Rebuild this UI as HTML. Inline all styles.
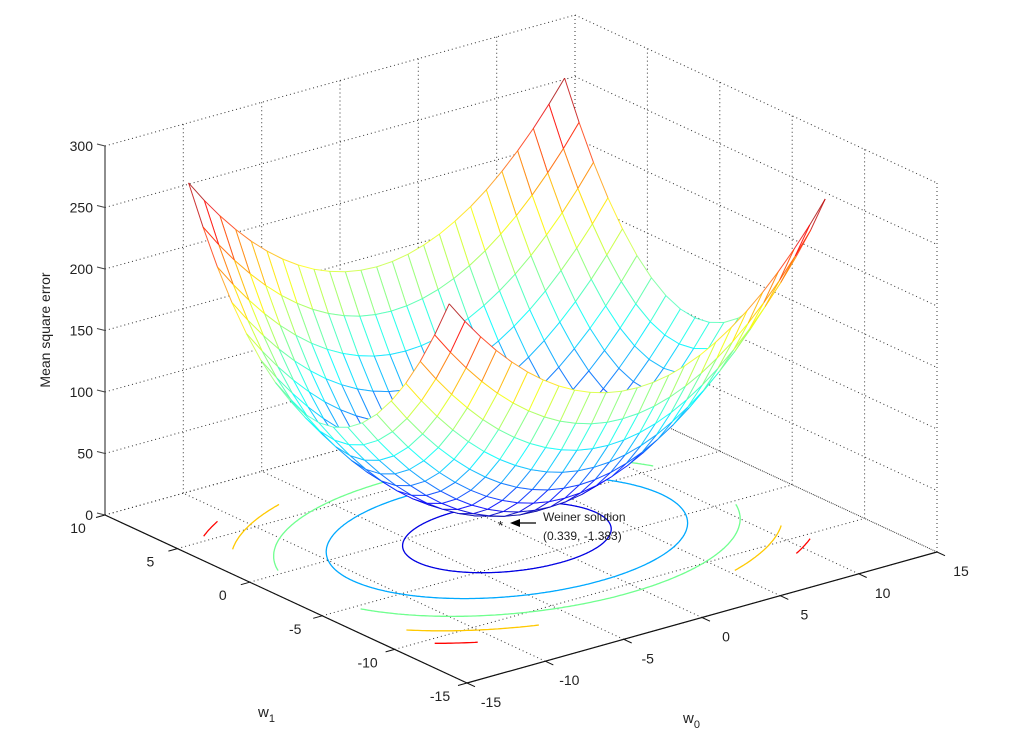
<!DOCTYPE html>
<html><head><meta charset="utf-8"><style>
html,body{margin:0;padding:0;background:#fff;}
svg{display:block;font-family:"Liberation Sans",Arial,sans-serif;}
</style></head><body>
<svg id="chart" width="1024" height="752" viewBox="0 0 1024 752" xmlns="http://www.w3.org/2000/svg">
<g id="grid"></g>
<g id="axes"></g>
<g id="contours"></g>
<g id="mesh"></g>
<g id="annot">
  <text x="498" y="530" font-size="13" fill="#111">*</text>
  <line x1="536" y1="523" x2="516" y2="523" stroke="#000" stroke-width="1.3"/>
  <polygon points="510,523 520,519 520,527" fill="#000"/>
  <text x="543" y="521" font-size="12" fill="#222">Weiner solution</text>
  <text x="543" y="540" font-size="12" fill="#222">(0.339, -1.383)</text>
</g>
<text x="50" y="330" font-size="14" fill="#222" text-anchor="middle" transform="rotate(-90 50 330)">Mean square error</text>
<text x="258" y="717" font-size="15" fill="#222">w<tspan font-size="11" dy="5">1</tspan></text>
<text x="683" y="723" font-size="15" fill="#222">w<tspan font-size="11" dy="5">0</tspan></text>
</svg>
<script>
// ---- data ----
const w0Ticks = [-15, -10, -5, 0, 5, 10, 15];
const w1Ticks = [10, 5, 0, -5, -10, -15];
const zTicks = [0, 50, 100, 150, 200, 250, 300];
const surfaceCenter = [-0.9, -2.5];     // minimum location as drawn
const surfaceHalfRange = [12, 9];       // mesh extent about the minimum
const minError = 25;
const curvature = [0.77, 1.8];          // quadratic coefficients for w0, w1
const contourLevels = [50, 100, 150, 200, 250];
const colorLimits = [25, 283];

// ---- projection ----
function P(w0, w1, z) {
  return [105 + (w0 + 15) * 15.667 + (10 - w1) * 14.48,
          515 - (w0 + 15) * 4.367 + (10 - w1) * 6.72 - z * 1.23];
}
function depth(w0, w1, z) { return 12.64 * w0 + 19.43 * w1 - 0.533 * z; }
function J(w0, w1) {
  const d0 = w0 - surfaceCenter[0], d1 = w1 - surfaceCenter[1];
  return minError + curvature[0] * d0 * d0 + curvature[1] * d1 * d1;
}
function jet(v) {
  let t = (v - colorLimits[0]) / (colorLimits[1] - colorLimits[0]);
  t = Math.max(0, Math.min(1, t));
  const f = x => Math.max(0, Math.min(1, 1.5 - Math.abs(4 * t - x)));
  return 'rgb(' + Math.round(255 * f(3)) + ',' + Math.round(255 * f(2)) + ',' + Math.round(255 * f(1)) + ')';
}
const NS = 'http://www.w3.org/2000/svg';
function line(g, a, b, stroke, dash, w) {
  const l = document.createElementNS(NS, 'line');
  l.setAttribute('x1', a[0].toFixed(1)); l.setAttribute('y1', a[1].toFixed(1));
  l.setAttribute('x2', b[0].toFixed(1)); l.setAttribute('y2', b[1].toFixed(1));
  l.setAttribute('stroke', stroke); l.setAttribute('stroke-width', w || 1);
  if (dash) l.setAttribute('stroke-dasharray', dash);
  g.appendChild(l);
  return l;
}
function text(g, x, y, s, anchor) {
  const t = document.createElementNS(NS, 'text');
  t.setAttribute('x', x); t.setAttribute('y', y);
  t.setAttribute('font-size', 14); t.setAttribute('fill', '#222');
  t.setAttribute('text-anchor', anchor || 'middle');
  t.textContent = s; g.appendChild(t);
  return t;
}

// ---- grid ----
const grid = document.getElementById('grid');
const dash = '1 3', gc = '#333';
w0Ticks.forEach(v => {
  let l = line(grid, P(v, -15, 0), P(v, 10, 0), gc, dash);
   
  l = line(grid, P(v, 10, 0), P(v, 10, 300), gc, dash);
   
});
w1Ticks.forEach(v => {
  let l = line(grid, P(-15, v, 0), P(15, v, 0), gc, dash);
   
  l = line(grid, P(15, v, 0), P(15, v, 300), gc, dash);
   
});
zTicks.forEach(v => {
  let l = line(grid, P(-15, 10, v), P(15, 10, v), gc, dash);
   
  l = line(grid, P(15, 10, v), P(15, -15, v), gc, dash);
   
});

// ---- axes ----
const axes = document.getElementById('axes');
let ax = line(axes, P(-15, 10, 0), P(-15, 10, 300), '#444', null, 1.2);
 
ax = line(axes, P(-15, 10, 0), P(-15, -15, 0), '#111', null, 1.2);
 
ax = line(axes, P(-15, -15, 0), P(15, -15, 0), '#111', null, 1.2);
 
zTicks.forEach(v => {
  const p = P(-15, 10, v);
  line(axes, p, [p[0] - 8, p[1] - 2], '#444');
  const t = text(axes, p[0] - 12, p[1] + 5, String(v), 'end');
   
});
w1Ticks.forEach(v => {
  const p = P(-15, v, 0);
  line(axes, p, [p[0] - 9, p[1] + 2.5], '#111');
  const t = text(axes, p[0] - 27, p[1] + 18, String(v), 'middle');
   
});
w0Ticks.forEach(v => {
  const p = P(v, -15, 0);
  line(axes, p, [p[0] + 8, p[1] + 3.7], '#111');
  const t = text(axes, p[0] + 24, p[1] + 24, String(v), 'middle');
   
});

// ---- contours on floor ----
const cg = document.getElementById('contours');
const lo0 = surfaceCenter[0] - surfaceHalfRange[0], hi0 = surfaceCenter[0] + surfaceHalfRange[0];
const lo1 = surfaceCenter[1] - surfaceHalfRange[1], hi1 = surfaceCenter[1] + surfaceHalfRange[1];
contourLevels.forEach(L => {
  const r0 = Math.sqrt((L - minError) / curvature[0]), r1 = Math.sqrt((L - minError) / curvature[1]);
  let segs = [], cur = [];
  for (let i = 0; i <= 720; i++) {
    const t = i / 720 * 2 * Math.PI;
    const a = surfaceCenter[0] + r0 * Math.cos(t), b = surfaceCenter[1] + r1 * Math.sin(t);
    if (a >= lo0 && a <= hi0 && b >= lo1 && b <= hi1) cur.push(P(a, b, 0));
    else { if (cur.length > 1) segs.push(cur); cur = []; }
  }
  if (cur.length > 1) segs.push(cur);
  segs.forEach(s => {
    const pl = document.createElementNS(NS, 'polyline');
    pl.setAttribute('points', s.map(p => p[0].toFixed(1) + ',' + p[1].toFixed(1)).join(' '));
    pl.setAttribute('fill', 'none'); pl.setAttribute('stroke', jet(L)); pl.setAttribute('stroke-width', 1.3);
    
    
    cg.appendChild(pl);
  });
});

// ---- mesh ----
const mg = document.getElementById('mesh');
const n0 = 24, n1 = 18;
const quads = [];
for (let i = 0; i < n0; i++) for (let j = 0; j < n1; j++) {
  const a0 = lo0 + i * (hi0 - lo0) / n0, b0 = lo0 + (i + 1) * (hi0 - lo0) / n0;
  const a1 = lo1 + j * (hi1 - lo1) / n1, b1 = lo1 + (j + 1) * (hi1 - lo1) / n1;
  const v = [[a0, a1], [b0, a1], [b0, b1], [a0, b1]].map(q => [q[0], q[1], J(q[0], q[1])]);
  const c = v.reduce((s, q) => [s[0] + q[0] / 4, s[1] + q[1] / 4, s[2] + q[2] / 4], [0, 0, 0]);
  quads.push({ v, d: depth(c[0], c[1], c[2]) });
}
quads.sort((p, q) => q.d - p.d);
quads.forEach(q => {
  const pts = q.v.map(p => P(p[0], p[1], p[2]));
  const g = document.createElementNS(NS, 'g');
  
  
  const poly = document.createElementNS(NS, 'polygon');
  poly.setAttribute('points', pts.map(p => p[0].toFixed(1) + ',' + p[1].toFixed(1)).join(' '));
  poly.setAttribute('fill', '#fff');
  g.appendChild(poly);
  for (let k = 0; k < 4; k++) {
    const z = (q.v[k][2] + q.v[(k + 1) % 4][2]) / 2;
    const l = line(g, pts[k], pts[(k + 1) % 4], jet(z), null, 1);
    l.setAttribute('stroke-opacity', '0.8');
  }
  mg.appendChild(g);
});
</script>
</body></html>
